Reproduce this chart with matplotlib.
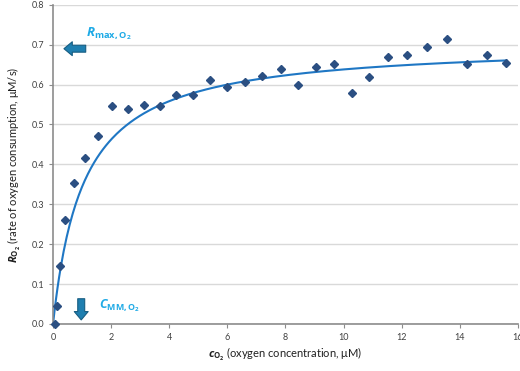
import numpy as np
import matplotlib.pyplot as plt

# measured points: O2 concentration (uM) and consumption rate (uM/s)
c_o2 = [0.07, 0.12, 0.25, 0.41, 0.72, 1.1, 1.54, 2.04, 2.57, 3.13, 3.68, 4.23, 4.8,
        5.4, 6.0, 6.62, 7.2, 7.85, 8.43, 9.05, 9.68, 10.29, 10.88, 11.54, 12.18,
        12.88, 13.56, 14.26, 14.92, 15.6]
r_o2 = [0.0, 0.044, 0.145, 0.261, 0.353, 0.415, 0.472, 0.547, 0.539, 0.55, 0.547,
        0.573, 0.575, 0.611, 0.594, 0.607, 0.622, 0.638, 0.599, 0.643, 0.651,
        0.578, 0.62, 0.668, 0.673, 0.694, 0.714, 0.651, 0.675, 0.655]

# Michaelis-Menten fit
r_max = 0.705
c_mm = 1.05

plt.rcParams['font.family'] = ['Lato', 'DejaVu Sans']
plt.rcParams['mathtext.fontset'] = 'custom'
plt.rcParams['mathtext.rm'] = 'Open Sans'
plt.rcParams['mathtext.it'] = 'Open Sans:italic'
plt.rcParams['mathtext.bf'] = 'Open Sans:bold'
plt.rcParams['mathtext.bfit'] = 'Open Sans:italic:bold'

fig = plt.figure(figsize=(5.2, 3.71), dpi=100)
ax = fig.add_axes([0.102, 0.127, 0.894, 0.86])

cfit = np.linspace(0, 15.6, 300)
ax.plot(cfit, r_max * cfit / (c_mm + cfit), color='#1f77c4', lw=1.5, zorder=2)
ax.plot(c_o2, r_o2, 'D', color='#2b4f82', ms=4.5, zorder=3, clip_on=False)

ax.set_xlim(0, 16)
ax.set_ylim(0, 0.8)
ax.set_xticks(range(0, 17, 2))
ax.set_yticks(np.arange(0, 0.81, 0.1))
ax.set_yticklabels(['%.1f' % v for v in np.arange(0, 0.81, 0.1)])
ax.grid(axis='y', color='#d9d9d9', lw=1)
ax.set_axisbelow(True)
for s in ['top', 'right']:
    ax.spines[s].set_visible(False)
for s in ['left', 'bottom']:
    ax.spines[s].set_color('#8c8c8c')
    ax.spines[s].set_linewidth(1.2)
ax.tick_params(colors='#8c8c8c', labelcolor='#404040', labelsize=6.5, length=3)

ax.set_xlabel(r'$\mathbfit{c}_{\mathbf{O_2}}$ (oxygen concentration, μM)', fontsize=8, color='#202020', labelpad=3)
ax.set_ylabel(r'$\mathbfit{R}_{\mathbf{O_2}}$ (rate of oxygen consumption, μM/s)', fontsize=8, color='#202020', labelpad=6)

ax.annotate('', xy=(0.28, 0.69), xytext=(1.22, 0.69),
            arrowprops=dict(arrowstyle='simple,head_width=1.0,head_length=0.6,tail_width=0.5',
                            fc='#1f7fb0', ec='#175d82', lw=0.8, mutation_scale=10))
ax.text(1.15, 0.728, r'$\mathbfit{R}_{\mathbf{max,O_2}}$', color='#1eaae6', fontsize=9.5, va='center')

ax.annotate('', xy=(0.97, 0.003), xytext=(0.97, 0.07),
            arrowprops=dict(arrowstyle='simple,head_width=1.0,head_length=0.6,tail_width=0.5',
                            fc='#1f7fb0', ec='#175d82', lw=0.8, mutation_scale=10))
ax.text(1.58, 0.046, r'$\mathbfit{C}_{\mathbf{MM,O_2}}$', color='#1eaae6', fontsize=9, va='center')

fig.savefig('out.png', dpi=100)
